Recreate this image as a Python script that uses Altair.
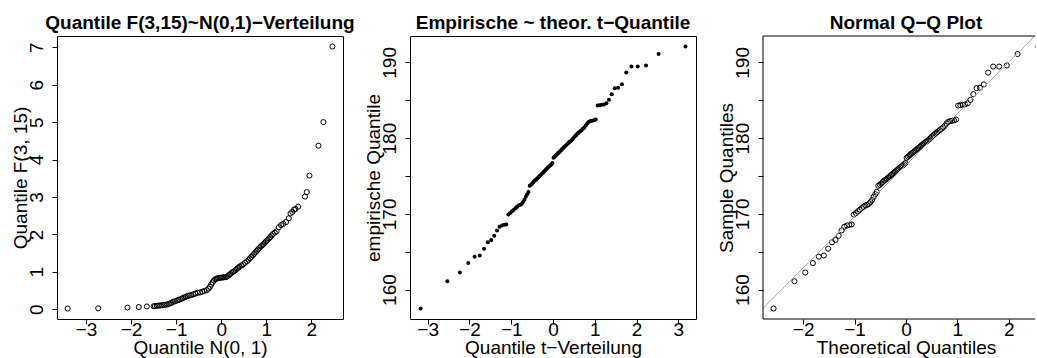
import altair as alt
import pandas as pd

# ---- Panel 1: sorted N(0,1) sample against sorted F(3,15) sample ----
norm_sample = [
    -3.41, -2.73, -2.08, -1.83, -1.65, -1.50, -1.47, -1.43, -1.39, -1.35,
    -1.31, -1.27, -1.23, -1.19, -1.15, -1.11, -1.07, -1.03, -0.99, -0.95,
    -0.92, -0.88, -0.85, -0.81, -0.78, -0.74, -0.70, -0.66, -0.62, -0.57,
    -0.52, -0.47, -0.42, -0.37, -0.32, -0.28, -0.25, -0.22, -0.19, -0.16,
    -0.13, -0.10, -0.07, -0.04, -0.01, 0.02, 0.05, 0.08, 0.11, 0.14,
    0.17, 0.20, 0.23, 0.26, 0.29, 0.32, 0.35, 0.38, 0.41, 0.45,
    0.49, 0.53, 0.57, 0.61, 0.64, 0.67, 0.70, 0.73, 0.76, 0.79,
    0.82, 0.85, 0.88, 0.91, 0.94, 0.97, 1.00, 1.03, 1.06, 1.09,
    1.12, 1.15, 1.19, 1.23, 1.28, 1.33, 1.38, 1.44, 1.50, 1.54,
    1.58, 1.62, 1.65, 1.71, 1.86, 1.90, 1.96, 2.16, 2.27, 2.47,
]
f_sample = [
    0.02, 0.025, 0.045, 0.06, 0.075, 0.08, 0.085, 0.09, 0.10, 0.10,
    0.11, 0.12, 0.12, 0.13, 0.15, 0.17, 0.20, 0.21, 0.23, 0.25,
    0.26, 0.28, 0.30, 0.32, 0.34, 0.36, 0.37, 0.38, 0.40, 0.42,
    0.44, 0.45, 0.47, 0.49, 0.51, 0.55, 0.60, 0.66, 0.72, 0.77,
    0.80, 0.82, 0.83, 0.84, 0.84, 0.85, 0.85, 0.86, 0.86, 0.88,
    0.91, 0.94, 0.97, 1.00, 1.02, 1.05, 1.08, 1.11, 1.14, 1.17,
    1.20, 1.24, 1.28, 1.32, 1.36, 1.40, 1.44, 1.48, 1.52, 1.56,
    1.60, 1.64, 1.68, 1.71, 1.74, 1.78, 1.82, 1.85, 1.89, 1.93,
    1.97, 2.01, 2.05, 2.08, 2.19, 2.25, 2.28, 2.33, 2.43, 2.56,
    2.60, 2.66, 2.68, 2.74, 3.01, 3.13, 3.57, 4.37, 5.00, 7.02,
]

# ---- Panels 2 and 3: sorted body heights ----
heights = [
    157.5, 161.1, 162.25, 163.5, 164.35, 164.5, 165.4, 166.25, 166.55, 167.1,
    167.8, 168.3, 168.45, 168.55, 168.6, 169.9, 170.1, 170.35, 170.55, 170.75,
    170.95, 171.1, 171.2, 171.3, 171.55, 171.85, 172.25, 172.6, 172.9, 173.7,
    173.85, 174.0, 174.2, 174.4, 174.5, 174.65, 174.8, 174.95, 175.1, 175.25,
    175.4, 175.55, 175.7, 175.85, 176.0, 176.15, 176.3, 176.4, 176.55, 176.7,
    177.4, 177.55, 177.7, 177.85, 178.0, 178.1, 178.25, 178.4, 178.55, 178.7,
    178.85, 179.0, 179.15, 179.3, 179.45, 179.55, 179.7, 179.85, 180.05, 180.25,
    180.4, 180.6, 180.75, 180.9, 181.05, 181.25, 181.4, 181.65, 181.95, 182.15,
    182.25, 182.3, 182.35, 182.45, 184.3, 184.35, 184.4, 184.45, 184.6, 185.05,
    185.8, 186.6, 186.65, 187.1, 188.65, 189.45, 189.45, 189.6, 191.1, 192.1,
]

# theoretical t(10) quantiles at the plotting positions
t_quantiles = [
    -3.1693, -2.5277, -2.2281, -2.0285, -1.8769, -1.7538, -1.6498, -1.5592, -1.4788, -1.4061,
    -1.3397, -1.2785, -1.2211, -1.1677, -1.1173, -1.0694, -1.0240, -0.9805, -0.9387, -0.8986,
    -0.8599, -0.8224, -0.7862, -0.7510, -0.7166, -0.6832, -0.6506, -0.6187, -0.5874, -0.5567,
    -0.5266, -0.4969, -0.4678, -0.4390, -0.4107, -0.3827, -0.3550, -0.3276, -0.3004, -0.2735,
    -0.2469, -0.2204, -0.1941, -0.1680, -0.1419, -0.1159, -0.0900, -0.0643, -0.0385, -0.0128,
    0.0128, 0.0385, 0.0643, 0.0900, 0.1159, 0.1419, 0.1680, 0.1941, 0.2204, 0.2469,
    0.2735, 0.3004, 0.3276, 0.3550, 0.3827, 0.4107, 0.4390, 0.4678, 0.4969, 0.5266,
    0.5567, 0.5874, 0.6187, 0.6506, 0.6832, 0.7166, 0.7510, 0.7862, 0.8224, 0.8599,
    0.8986, 0.9387, 0.9805, 1.0240, 1.0694, 1.1173, 1.1677, 1.2211, 1.2785, 1.3397,
    1.4061, 1.4788, 1.5592, 1.6498, 1.7538, 1.8769, 2.0285, 2.2281, 2.5277, 3.1693,
]

# theoretical N(0,1) quantiles at the plotting positions
z_quantiles = [
    -2.5758, -2.1701, -1.9600, -1.8119, -1.6954, -1.5982, -1.5141, -1.4395, -1.3722, -1.3106,
    -1.2536, -1.2004, -1.1503, -1.1031, -1.0581, -1.0152, -0.9741, -0.9346, -0.8965, -0.8596,
    -0.8239, -0.7892, -0.7554, -0.7225, -0.6903, -0.6588, -0.6280, -0.5978, -0.5681, -0.5388,
    -0.5101, -0.4817, -0.4538, -0.4261, -0.3989, -0.3719, -0.3451, -0.3186, -0.2924, -0.2663,
    -0.2404, -0.2147, -0.1891, -0.1637, -0.1383, -0.1130, -0.0878, -0.0627, -0.0376, -0.0125,
    0.0125, 0.0376, 0.0627, 0.0878, 0.1130, 0.1383, 0.1637, 0.1891, 0.2147, 0.2404,
    0.2663, 0.2924, 0.3186, 0.3451, 0.3719, 0.3989, 0.4261, 0.4538, 0.4817, 0.5101,
    0.5388, 0.5681, 0.5978, 0.6280, 0.6588, 0.6903, 0.7225, 0.7554, 0.7892, 0.8239,
    0.8596, 0.8965, 0.9346, 0.9741, 1.0152, 1.0581, 1.1031, 1.1503, 1.2004, 1.2536,
    1.3106, 1.3722, 1.4395, 1.5141, 1.5982, 1.6954, 1.8119, 1.9600, 2.1701, 2.5758,
]

# reference line of the normal Q-Q plot
qqline_intercept = 176.45
qqline_slope = 6.8

titles = [
    "Quantile F(3,15)~N(0,1)\u2212Verteilung",
    "Empirische ~ theor. t\u2212Quantile",
    "Normal Q\u2212Q Plot",
]

FONT = "Liberation Sans"
FS = 19
PANEL_W, PANEL_H = 286, 283
PANEL3_W = 273          # last panel is cut at the right page edge
SPACING = 67
TITLE_GAP = 7.5         # distance from title baseline to the plot box

one_row = pd.DataFrame({"k": [0]})


def r_range(vals):
    """Axis limits extended by 4% of the data range on each side."""
    lo, hi = min(vals), max(vals)
    ext = 0.04 * (hi - lo)
    return [lo - ext, hi + ext]


def x_axis(title, values, **extra):
    return alt.Axis(
        title=title, values=values, grid=False, domain=False,
        tickSize=5, tickColor="black", tickWidth=1,
        labelFont=FONT, labelFontSize=FS, labelColor="black",
        labelBaseline="alphabetic", labelPadding=11,
        labelFlush=False, labelOverlap=False,
        titleFont=FONT, titleFontSize=FS, titleFontWeight="normal",
        titleColor="black", titleBaseline="alphabetic", titleY=34,
        **extra,
    )


def y_axis(title, values, **extra):
    return alt.Axis(
        title=title, values=values, grid=False, domain=False,
        tickSize=5, tickColor="black", tickWidth=1,
        labelFont=FONT, labelFontSize=FS, labelColor="black",
        labelAngle=270, labelAlign="center", labelBaseline="alphabetic",
        labelPadding=10, labelFlush=False, labelOverlap=False,
        titleFont=FONT, titleFontSize=FS, titleFontWeight="normal",
        titleColor="black", titleAngle=270, titleAlign="center",
        titleBaseline="alphabetic", titleX=-31,
        **extra,
    )


def title_mark(text, center_x):
    """Bold panel heading drawn just above the plot box."""
    return alt.Chart(one_row).mark_text(
        text=text, font=FONT, fontSize=FS, fontWeight="bold", color="black",
        align="center", baseline="alphabetic",
    ).encode(x=alt.value(center_x), y=alt.value(-TITLE_GAP))


tens_only = "datum.value % 10 === 0 ? datum.label : ''"
height_ticks = [160, 165, 170, 175, 180, 185, 190]

# ---- Panel 1 ----
df1 = pd.DataFrame({"x": norm_sample, "y": f_sample})
pts1 = alt.Chart(df1).mark_point(
    shape="circle", filled=False, size=26, strokeWidth=1, color="black", opacity=1
).encode(
    x=alt.X("x:Q", scale=alt.Scale(domain=r_range(norm_sample), nice=False, zero=False),
            axis=x_axis("Quantile N(0, 1)", [-3, -2, -1, 0, 1, 2])),
    y=alt.Y("y:Q", scale=alt.Scale(domain=r_range(f_sample), nice=False, zero=False),
            axis=y_axis("Quantile F(3, 15)", [0, 1, 2, 3, 4, 5, 6, 7])),
)
p1 = alt.layer(pts1, title_mark(titles[0], PANEL_W / 2)).properties(
    width=PANEL_W, height=PANEL_H)

# ---- Panel 2 ----
df2 = pd.DataFrame({"x": t_quantiles, "y": heights})
pts2 = alt.Chart(df2).mark_circle(size=16, color="black", opacity=1).encode(
    x=alt.X("x:Q", scale=alt.Scale(domain=r_range(t_quantiles), nice=False, zero=False),
            axis=x_axis("Quantile t\u2212Verteilung", [-3, -2, -1, 0, 1, 2, 3])),
    y=alt.Y("y:Q", scale=alt.Scale(domain=r_range(heights), nice=False, zero=False),
            axis=y_axis("empirische Quantile", height_ticks, labelExpr=tens_only)),
)
p2 = alt.layer(pts2, title_mark(titles[1], PANEL_W / 2)).properties(
    width=PANEL_W, height=PANEL_H)

# ---- Panel 3 (normal Q-Q plot with reference line) ----
z_full = r_range(z_quantiles)
z_dom = [z_full[0], z_full[0] + (z_full[1] - z_full[0]) * PANEL3_W / PANEL_W]
y_dom = r_range(heights)

df3 = pd.DataFrame({"x": z_quantiles, "y": heights})
line_df = pd.DataFrame({
    "x": z_dom,
    "y": [qqline_intercept + qqline_slope * v for v in z_dom],
})
x3 = alt.Scale(domain=z_dom, nice=False, zero=False)
y3 = alt.Scale(domain=y_dom, nice=False, zero=False)

pts3 = alt.Chart(df3).mark_point(
    shape="circle", filled=False, size=26, strokeWidth=1, color="black", opacity=1, clip=True
).encode(
    x=alt.X("x:Q", scale=x3,
            axis=x_axis("Theoretical Quantiles", [-2, -1, 0, 1, 2], titleX=PANEL_W / 2)),
    y=alt.Y("y:Q", scale=y3,
            axis=y_axis("Sample Quantiles", height_ticks, labelExpr=tens_only)),
)
line3 = alt.Chart(line_df).mark_line(color="#a6a6a6", strokeWidth=1, clip=True).encode(
    x=alt.X("x:Q", scale=x3), y=alt.Y("y:Q", scale=y3)
)

frame_top = alt.Chart(one_row).mark_rule(color="black", strokeWidth=1).encode(
    x=alt.value(0), x2=alt.value(PANEL3_W - 1), y=alt.value(0))
frame_left = alt.Chart(one_row).mark_rule(color="black", strokeWidth=1).encode(
    x=alt.value(0), y=alt.value(0), y2=alt.value(PANEL_H))
frame_bottom = alt.Chart(one_row).mark_rule(color="black", strokeWidth=1).encode(
    x=alt.value(0), x2=alt.value(PANEL3_W - 1), y=alt.value(PANEL_H))

p3 = alt.layer(
    pts3, line3, frame_top, frame_left, frame_bottom, title_mark(titles[2], PANEL_W / 2)
).properties(
    width=PANEL3_W, height=PANEL_H,
    view=alt.ViewBackground(stroke="transparent"),
)

chart = alt.hconcat(p1, p2, p3, spacing=SPACING, bounds="flush").properties(
    padding={"left": 10, "top": 13, "right": 0, "bottom": 0},
    background="white",
).configure_view(stroke="black", strokeWidth=1)

chart.save("out.html", embed_options={"renderer": "svg", "actions": False})
